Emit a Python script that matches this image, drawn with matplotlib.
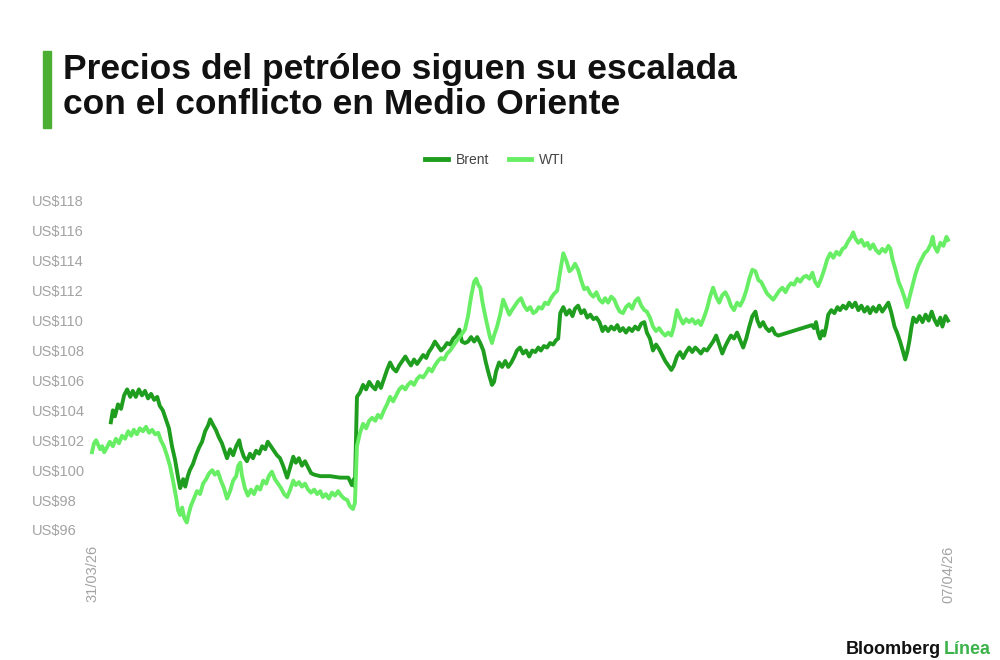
import matplotlib
matplotlib.use('Agg')
import matplotlib.pyplot as plt
from matplotlib.lines import Line2D

plt.rcParams['font.family'] = ['Liberation Sans', 'DejaVu Sans']

TITLE_LINES = ['Precios del petróleo siguen su escalada', 'con el conflicto en Medio Oriente']
SERIES = ['Brent', 'WTI']
COLORS = {'Brent': '#1f9d1f', 'WTI': '#68ee64'}
Y_TICKS = [96, 98, 100, 102, 104, 106, 108, 110, 112, 114, 116, 118]
X_TICKS = [0, 168]
X_LABELS = ['31/03/26', '07/04/26']

# hours since 31/03/26 00:00
brent_t = [3.7, 4.1, 4.5, 5.1, 5.7, 6.3, 6.9, 7.5, 8.0, 8.6, 9.2, 9.8, 10.4, 11.0, 11.6, 12.2,
           12.8, 13.3, 13.9, 14.5, 15.1, 15.7, 16.3, 16.9, 17.3, 17.9, 18.3, 18.8, 19.2, 19.8,
           20.4, 21.0, 21.6, 22.2, 22.8, 23.2, 23.8, 24.3, 24.9, 25.5, 26.1, 26.5, 27.1, 27.7,
           28.3, 28.9, 29.2, 29.8, 30.4, 31.0, 31.6, 32.2, 32.8, 33.4, 34.0, 34.5, 35.1, 35.7,
           36.3, 36.9, 37.5, 38.3, 38.9, 39.5, 40.0, 40.6, 41.2, 41.8, 42.4, 43.0, 43.6, 44.8,
           46.7, 48.7, 50.3, 50.6, 51.0, 51.4, 51.6, 52.0, 52.6, 53.2, 53.8, 54.4, 55.0, 55.6,
           56.1, 56.7, 57.3, 57.9, 58.5, 59.1, 59.7, 60.3, 60.9, 61.5, 62.0, 62.6, 63.2, 63.8,
           64.4, 65.0, 65.6, 66.1, 66.7, 67.3, 67.9, 68.5, 69.1, 69.7, 70.3, 70.9, 71.5, 72.1,
           72.6, 73.2, 73.8, 74.4, 75.0, 75.6, 76.2, 76.8, 77.3, 77.9, 78.5, 78.9, 79.3, 79.9,
           80.5, 81.1, 81.7, 82.3, 82.9, 83.4, 84.0, 84.6, 85.2, 85.8, 86.4, 87.0, 87.6, 88.1,
           88.7, 89.3, 89.9, 90.5, 91.1, 91.5, 91.9, 92.5, 93.1, 93.7, 94.3, 94.8, 95.4, 96.0,
           96.6, 97.2, 97.8, 98.4, 99.0, 99.6, 100.2, 100.7, 101.3, 101.9, 102.5, 103.1, 103.6,
           104.2, 104.8, 105.4, 106.0, 106.6, 107.2, 107.8, 108.4, 108.9, 109.5, 110.1, 110.7,
           111.3, 111.9, 112.5, 113.1, 113.7, 114.2, 114.8, 115.4, 116.0, 116.6, 117.2, 117.8,
           118.4, 119.0, 119.5, 120.1, 120.7, 121.3, 121.9, 122.5, 123.1, 123.7, 124.3, 124.9,
           125.4, 126.0, 126.6, 127.2, 127.8, 128.4, 129.0, 129.6, 130.2, 130.6, 131.1, 131.7,
           132.3, 132.9, 133.5, 134.1, 134.7, 141.3, 141.7, 142.1, 142.5, 142.9, 143.3, 143.7,
           144.1, 144.5, 145.1, 145.7, 146.3, 146.8, 147.4, 148.0, 148.6, 149.2, 149.8, 150.4,
           151.0, 151.6, 152.2, 152.7, 153.3, 153.9, 154.5, 155.1, 155.7, 156.3, 156.9, 157.5,
           158.0, 158.6, 159.2, 159.6, 160.0, 160.4, 160.8, 161.2, 161.8, 162.4, 163.0, 163.6,
           164.2, 164.8, 165.3, 165.9, 166.5, 166.9, 167.5, 168.0]
brent_v = [103.2, 104.0, 103.6, 104.4, 104.1, 105.0, 105.4, 104.9, 105.3, 104.9, 105.4, 105.0,
           105.3, 104.8, 105.1, 104.7, 104.9, 104.3, 104.0, 103.4, 102.8, 101.6, 100.7, 99.5,
           98.8, 99.4, 98.9, 99.6, 100.0, 100.4, 101.0, 101.5, 101.9, 102.6, 103.0, 103.4,
           103.0, 102.7, 102.2, 101.8, 101.2, 100.8, 101.4, 101.0, 101.6, 102.0, 101.5, 100.9,
           100.6, 101.1, 100.8, 101.3, 101.1, 101.6, 101.4, 101.9, 101.6, 101.3, 101.0, 100.8,
           100.3, 99.5, 100.2, 100.9, 100.5, 100.8, 100.3, 100.6, 100.2, 99.8, 99.7, 99.6,
           99.6, 99.5, 99.5, 99.3, 99.0, 99.4, 98.9, 104.9, 105.2, 105.7, 105.4, 105.9, 105.6,
           105.4, 105.9, 105.5, 106.1, 106.7, 107.2, 106.8, 106.6, 107.0, 107.3, 107.6, 107.3,
           107.0, 107.4, 107.1, 107.4, 107.7, 107.5, 107.9, 108.2, 108.6, 108.3, 108.0, 108.2,
           108.5, 108.4, 108.8, 109.0, 109.4, 108.6, 108.5, 108.6, 108.9, 108.6, 108.9, 108.5,
           108.0, 107.2, 106.4, 105.7, 105.9, 106.6, 107.2, 106.9, 107.3, 106.9, 107.2, 107.6,
           108.0, 108.2, 107.8, 108.0, 107.6, 108.0, 107.9, 108.2, 108.0, 108.3, 108.2, 108.5,
           108.4, 108.7, 108.8, 110.5, 110.9, 110.4, 110.7, 110.3, 110.8, 111.0, 110.5, 110.7,
           110.2, 110.4, 110.1, 110.2, 109.9, 109.3, 109.6, 109.3, 109.6, 109.4, 109.7, 109.3,
           109.5, 109.2, 109.5, 109.3, 109.6, 109.4, 109.8, 109.9, 109.2, 108.8, 108.0, 108.4,
           108.1, 107.7, 107.3, 107.0, 106.7, 107.0, 107.6, 107.9, 107.5, 107.9, 108.2, 107.9,
           108.2, 108.0, 107.8, 108.1, 108.0, 108.3, 108.6, 109.0, 108.4, 107.8, 108.3, 108.7,
           109.0, 108.8, 109.2, 108.7, 108.2, 108.8, 109.6, 110.3, 110.6, 110.0, 109.6, 109.9,
           109.5, 109.3, 109.5, 109.1, 109.0, 109.7, 109.5, 109.9, 109.2, 108.8, 109.3, 109.0,
           109.6, 110.4, 110.7, 110.5, 110.9, 110.7, 111.0, 110.8, 111.2, 110.9, 111.2, 110.7,
           111.0, 110.6, 110.9, 110.5, 110.9, 110.6, 111.0, 110.6, 110.9, 111.2, 110.5, 109.6,
           109.2, 108.6, 107.9, 107.4, 107.9, 108.6, 109.5, 110.2, 109.9, 110.3, 109.9, 110.4,
           110.0, 110.6, 110.1, 109.7, 110.2, 109.6, 110.3, 110.0]

wti_t = [0.0, 0.4, 0.8, 1.2, 1.6, 2.0, 2.4, 2.9, 3.5, 4.1, 4.7, 5.3, 5.9, 6.5, 7.1, 7.7, 8.2,
         8.8, 9.4, 10.0, 10.6, 11.2, 11.8, 12.4, 13.0, 13.5, 14.1, 14.7, 15.3, 15.9, 16.5, 16.9,
         17.3, 17.7, 18.1, 18.6, 19.0, 19.4, 20.0, 20.6, 21.2, 21.8, 22.4, 23.0, 23.6, 24.1,
         24.7, 25.3, 25.9, 26.5, 27.1, 27.7, 28.3, 28.7, 29.1, 29.4, 30.0, 30.6, 31.2, 31.8,
         32.4, 33.0, 33.6, 34.2, 34.7, 35.3, 35.9, 36.5, 37.1, 37.7, 38.3, 38.9, 39.5, 40.0,
         40.6, 41.2, 41.8, 42.4, 43.0, 43.6, 44.2, 44.8, 45.3, 45.9, 46.5, 47.1, 47.7, 48.3,
         48.9, 49.5, 50.1, 50.6, 51.2, 51.6, 52.0, 52.6, 53.2, 53.8, 54.4, 55.0, 55.6, 56.1,
         56.7, 57.3, 57.9, 58.5, 59.1, 59.7, 60.3, 60.9, 61.5, 62.0, 62.6, 63.2, 63.8, 64.4,
         65.0, 65.6, 66.1, 66.7, 67.3, 67.9, 68.5, 69.1, 69.7, 70.3, 70.9, 71.5, 72.1, 72.6,
         73.2, 73.8, 74.4, 75.0, 75.4, 75.8, 76.2, 76.6, 77.0, 77.5, 78.1, 78.5, 78.9, 79.5,
         80.1, 80.7, 81.3, 81.9, 82.4, 83.0, 83.6, 84.2, 84.8, 85.4, 86.0, 86.6, 87.1, 87.7,
         88.3, 88.9, 89.5, 90.1, 90.7, 91.3, 91.9, 92.5, 93.1, 93.7, 94.3, 94.8, 95.4, 96.0,
         96.6, 97.2, 97.8, 98.4, 99.0, 99.6, 100.2, 100.7, 101.3, 101.9, 102.5, 103.1, 103.6,
         104.2, 104.8, 105.4, 106.0, 106.6, 107.2, 107.8, 108.4, 108.9, 109.5, 110.1, 110.7,
         111.3, 111.9, 112.5, 113.1, 113.7, 114.2, 114.8, 115.4, 116.0, 116.6, 117.2, 117.8,
         118.4, 119.0, 119.5, 120.1, 120.7, 121.3, 121.9, 122.5, 123.1, 123.7, 124.3, 124.9,
         125.4, 126.0, 126.6, 127.2, 127.8, 128.4, 129.0, 129.6, 130.2, 130.8, 131.3, 131.9,
         132.5, 133.1, 133.7, 134.3, 134.9, 135.5, 136.1, 136.7, 137.2, 137.8, 138.4, 139.0,
         139.6, 140.2, 140.8, 141.4, 141.9, 142.5, 143.1, 143.7, 144.3, 144.9, 145.5, 146.1,
         146.7, 147.3, 147.8, 148.4, 149.0, 149.4, 149.8, 150.4, 151.0, 151.6, 152.2, 152.7,
         153.3, 153.9, 154.5, 155.1, 155.7, 156.3, 156.7, 157.1, 157.7, 158.3, 158.9, 159.5,
         160.0, 160.4, 161.0, 161.6, 162.2, 162.8, 163.4, 164.0, 164.6, 165.0, 165.3, 165.9,
         166.5, 167.1, 167.7, 168.0]
wti_v = [101.2, 101.8, 102.0, 101.7, 101.4, 101.6, 101.2, 101.5, 101.9, 101.6, 102.1, 101.8,
         102.3, 102.1, 102.6, 102.3, 102.7, 102.4, 102.8, 102.6, 102.9, 102.5, 102.7, 102.4,
         102.5, 102.0, 101.6, 101.0, 100.3, 99.3, 98.2, 97.3, 97.0, 97.5, 96.8, 96.5, 97.1,
         97.6, 98.1, 98.6, 98.4, 99.1, 99.4, 99.8, 100.0, 99.7, 99.9, 99.3, 98.8, 98.1, 98.6,
         99.3, 99.6, 100.3, 100.5, 99.7, 98.8, 98.3, 98.7, 98.4, 98.9, 98.7, 99.3, 99.1, 99.6,
         99.9, 99.4, 99.1, 98.8, 98.4, 98.2, 98.7, 99.3, 99.0, 99.2, 98.9, 99.1, 98.7, 98.5,
         98.7, 98.4, 98.6, 98.2, 98.4, 98.1, 98.5, 98.3, 98.6, 98.3, 98.1, 98.0, 97.6, 97.4,
         97.8, 101.6, 102.5, 103.1, 102.8, 103.3, 103.5, 103.3, 103.7, 103.5, 104.0, 104.4,
         104.9, 104.6, 105.0, 105.4, 105.6, 105.4, 105.7, 105.9, 105.7, 106.1, 106.3, 106.2,
         106.5, 106.8, 106.6, 107.0, 107.3, 107.5, 107.4, 107.8, 108.0, 108.3, 108.6, 108.9,
         109.1, 109.4, 110.3, 111.6, 112.6, 112.8, 112.4, 112.2, 111.3, 110.6, 109.8, 108.9,
         108.5, 109.0, 109.6, 110.4, 111.4, 110.9, 110.4, 110.7, 111.0, 111.3, 111.5, 111.0,
         110.7, 110.9, 110.5, 110.6, 110.9, 110.8, 111.2, 111.1, 111.5, 111.8, 112.0, 113.3,
         114.5, 114.0, 113.3, 113.5, 113.8, 113.4, 112.7, 112.1, 112.2, 111.8, 111.6, 111.9,
         111.4, 111.2, 111.5, 111.2, 111.6, 111.4, 110.9, 110.6, 110.5, 110.9, 111.1, 110.8,
         111.3, 111.5, 111.0, 110.7, 110.6, 110.2, 109.6, 109.3, 109.5, 109.2, 109.0, 109.2,
         109.0, 109.6, 110.7, 110.2, 109.8, 110.1, 109.9, 110.1, 109.8, 110.0, 109.7, 110.2,
         110.8, 111.6, 112.2, 111.6, 111.2, 111.7, 111.9, 111.5, 111.0, 110.7, 111.2, 111.0,
         111.4, 112.0, 112.8, 113.4, 113.3, 112.7, 112.6, 112.2, 111.8, 111.6, 111.4, 111.7,
         112.0, 112.2, 111.9, 112.3, 112.5, 112.4, 112.8, 112.6, 112.9, 113.0, 112.8, 113.2,
         112.6, 112.3, 112.8, 113.4, 114.1, 114.5, 114.2, 114.6, 114.4, 114.8, 114.9, 115.3,
         115.6, 115.9, 115.5, 115.2, 115.4, 115.0, 115.2, 114.8, 115.1, 114.7, 114.5, 114.8,
         114.6, 115.0, 114.8, 114.1, 113.4, 112.6, 112.1, 111.5, 110.9, 111.5, 112.3, 113.1,
         113.7, 114.1, 114.5, 114.7, 115.1, 115.6, 115.0, 114.6, 115.2, 115.0, 115.6, 115.4]

fig = plt.figure(figsize=(10, 6.6), dpi=100)
ax = fig.add_axes([0.092, 0.197, 0.856, 0.4985])

ax.plot(brent_t, brent_v, color=COLORS['Brent'], lw=2.8, solid_joinstyle='round', clip_on=False)
ax.plot(wti_t, wti_v, color=COLORS['WTI'], lw=2.8, solid_joinstyle='round', clip_on=False)

ax.set_xlim(0, 168)
ax.set_ylim(96, 118)
ax.set_yticks(Y_TICKS)
ax.set_yticklabels([f'US${v}' for v in Y_TICKS])
ax.set_xticks(X_TICKS)
ax.set_xticklabels(X_LABELS, rotation=90)
for lab in ax.get_yticklabels():
    lab.set_horizontalalignment('left')
ax.tick_params(axis='y', length=0, pad=43, labelsize=10.5, labelcolor='#a3a3a3')
ax.tick_params(axis='x', length=0, pad=11, labelsize=10.5, labelcolor='#a3a3a3')
for s in ax.spines.values():
    s.set_visible(False)

# title + green bar
fig.patches.append(plt.Rectangle((0.043, 1 - 128/660), 0.008, 77/660, transform=fig.transFigure,
                                 color='#4caf34', zorder=5))
for i, line in enumerate(TITLE_LINES):
    fig.text(0.063, 1 - (79 + 35 * i)/660, line, va='baseline', ha='left', fontsize=25.5,
             fontweight='bold', color='#111111')

# legend
handles = [Line2D([0], [0], color=COLORS[s], lw=3.5) for s in SERIES]
fig.legend(handles, SERIES, loc='center', bbox_to_anchor=(0.495, 1 - 160/660), ncol=2,
           frameon=False, fontsize=10, handlelength=1.6, handletextpad=0.6, columnspacing=1.4,
           labelcolor='#444444')

# logo
fig.text(0.941, 1 - 654/660, 'Bloomberg', ha='right', va='baseline', fontsize=13,
         fontweight='bold', color='#111111')
fig.text(0.944, 1 - 654/660, 'Línea', ha='left', va='baseline', fontsize=13,
         fontweight='bold', color='#3cb34a')

fig.savefig('out.png', dpi=100, facecolor='white')
